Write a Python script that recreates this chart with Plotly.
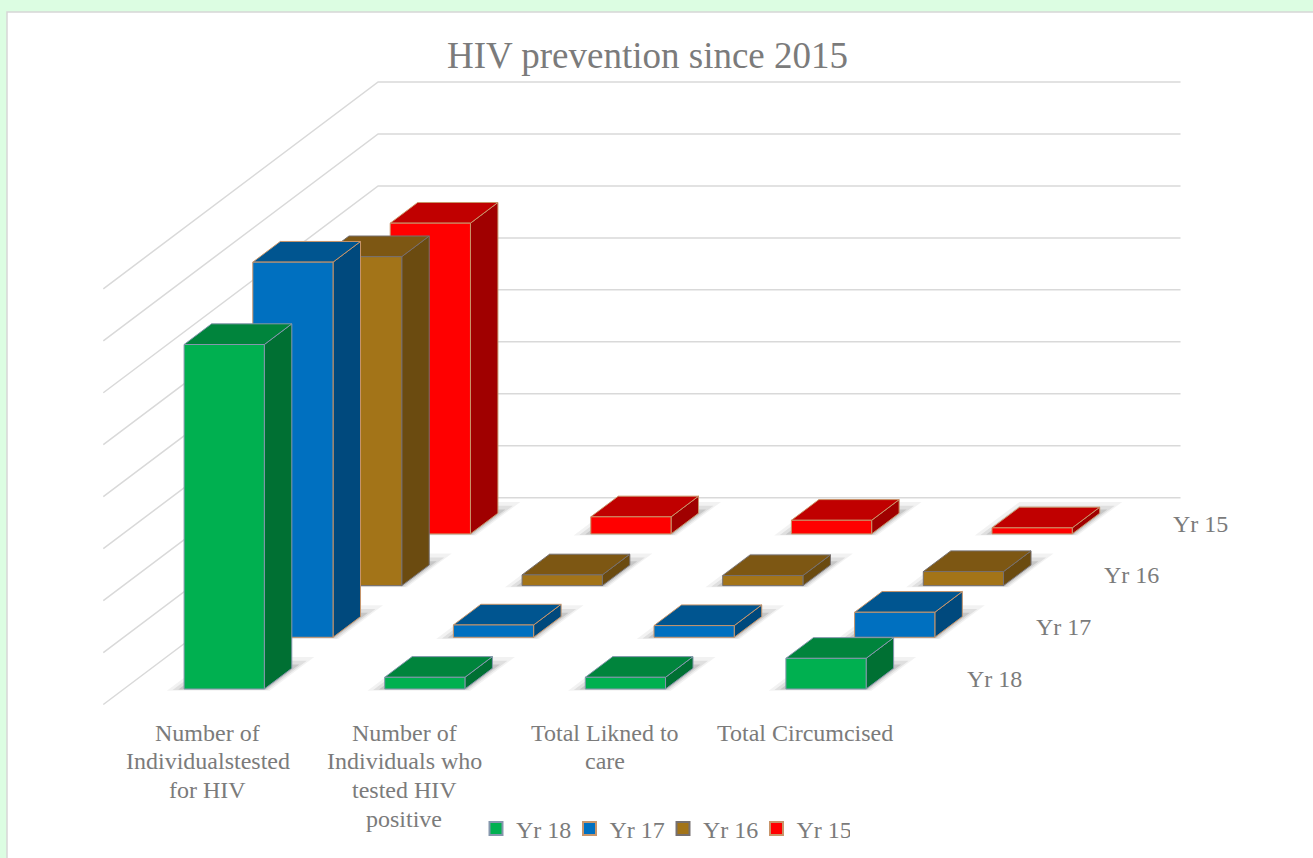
import plotly.graph_objects as go

# ---------------- data ----------------
categories = ["Number of<br>Individualstested<br>for HIV",
              "Number of<br>Individuals who<br>tested HIV<br>positive",
              "Total Likned to<br>care",
              "Total Circumcised"]
series_names = ["Yr 18", "Yr 17", "Yr 16", "Yr 15"]
yr18 = [6630, 225, 225, 590]
yr17 = [7220, 237, 225, 482]
yr16 = [6330, 206, 193, 270]
yr15 = [5980, 328, 262, 116]
series_values = [yr18, yr17, yr16, yr15]

grid_step = 1000
grid_max = 8000

# ---------------- styling ----------------
front_colors = ["#00b050", "#0070c0", "#a37418", "#ff0000"]
top_colors = ["#00843c", "#005590", "#7d5713", "#c00000"]
side_colors = ["#007033", "#00497d", "#6b4b10", "#a00000"]
edge_colors = ["#8597ad", "#c8956a", "#767070", "#c8956a"]
TEXT = "#7b7b7b"
FONT = "Liberation Serif"

# oblique projection: depth row shifts right and up
KX = 0.3425      # category units per depth row
KY = 995.0       # value units per depth row
BAR_W = 0.4
BAR_D = 0.4
n_cat = len(categories)
n_ser = len(series_names)


def proj(c, d, v):
    return c + d * KX, v + d * KY


def poly(points):
    xs, ys = [], []
    for (c, d, v) in points:
        x, y = proj(c, d, v)
        xs.append(x)
        ys.append(y)
    x, y = proj(*points[0])
    xs += [x, None]
    ys += [y, None]
    return xs, ys


fig = go.Figure()

# gridlines on side wall and back wall
gx, gy = [], []
v = 0
while v <= grid_max:
    for p in [(0, 0, v), (0, n_ser, v), (n_cat, n_ser, v)]:
        x, y = proj(*p)
        gx.append(x)
        gy.append(y)
    gx.append(None)
    gy.append(None)
    v += grid_step
fig.add_trace(go.Scatter(x=gx, y=gy, mode="lines", line=dict(color="#d9d9d9", width=1.5),
                         hoverinfo="skip", showlegend=False))

# soft shadows on the floor
for level, alpha in [(15, 0.05), (10, 0.08), (5, 0.11)]:
    sx, sy = [], []
    for s in range(n_ser):
        for i in range(n_cat):
            ec = level / 200.6
            ed = level / 68.7
            c0, c1 = i + 0.5 - BAR_W / 2 - ec, i + 0.5 + BAR_W / 2 + ec * 0.5
            d0, d1 = s + 0.5 - BAR_D / 2 - ed * 0.15, s + 0.5 + BAR_D / 2 + ed
            xs, ys = poly([(c0, d0, 0), (c1, d0, 0), (c1, d1, 0), (c0, d1, 0)])
            sx += xs
            sy += ys
    fig.add_trace(go.Scatter(x=sx, y=sy, mode="lines", fill="toself",
                             fillcolor=f"rgba(0,0,0,{alpha})", line=dict(width=0),
                             hoverinfo="skip", showlegend=False))

# bars, back row first
for s in reversed(range(n_ser)):
    vals = series_values[s]
    d0, d1 = s + 0.5 - BAR_D / 2, s + 0.5 + BAR_D / 2
    faces = {"side": ([], []), "top": ([], []), "front": ([], [])}
    for i, val in enumerate(vals):
        c0, c1 = i + 0.5 - BAR_W / 2, i + 0.5 + BAR_W / 2
        parts = {
            "front": [(c0, d0, 0), (c1, d0, 0), (c1, d0, val), (c0, d0, val)],
            "top": [(c0, d0, val), (c1, d0, val), (c1, d1, val), (c0, d1, val)],
            "side": [(c1, d0, 0), (c1, d1, 0), (c1, d1, val), (c1, d0, val)],
        }
        for k, pts in parts.items():
            xs, ys = poly(pts)
            faces[k][0].extend(xs)
            faces[k][1].extend(ys)
    for k, col in [("side", side_colors[s]), ("top", top_colors[s]), ("front", front_colors[s])]:
        fig.add_trace(go.Scatter(x=faces[k][0], y=faces[k][1], mode="lines", fill="toself",
                                 fillcolor=col, line=dict(color=edge_colors[s], width=1),
                                 hoverinfo="skip", showlegend=False))

# legend entries
for s in range(n_ser):
    fig.add_trace(go.Scatter(x=[None], y=[None], mode="markers", name=series_names[s],
                             marker=dict(symbol="square", size=13, color=front_colors[s],
                                         line=dict(color=edge_colors[s], width=2))))

# category labels along the front edge (one annotation per text line, Excel-like spacing)
LINE_PITCH = 28.7
for i, lab in enumerate(categories):
    x, y = proj(i + 0.5, 0, 0)
    for k, line in enumerate(lab.split("<br>")):
        fig.add_annotation(x=x + (0.02 if i == 0 else 0), y=y, text=line, showarrow=False,
                           xanchor="center", yanchor="top", yshift=-13 - k * LINE_PITCH,
                           font=dict(family=FONT, size=24, color=TEXT), align="center")

# series labels along the depth axis
for s in range(n_ser):
    x, y = proj(n_cat, s + 0.5, 0)
    fig.add_annotation(x=x, y=y, text=series_names[s], showarrow=False, xanchor="left",
                       yanchor="middle", xshift=25, font=dict(family=FONT, size=24, color=TEXT))

W, H = 1313, 858
fig.add_shape(type="rect", xref="paper", yref="paper", x0=7 / W, x1=1.02, y0=-0.02, y1=1 - 12 / H,
              fillcolor="white", line=dict(color="#d6d6d6", width=1.5), layer="below")

fig.update_layout(
    width=W, height=H, autosize=False,
    margin=dict(l=0, r=0, t=0, b=0),
    paper_bgcolor="#dcfde2", plot_bgcolor="rgba(0,0,0,0)",
    title=dict(text="HIV prevention since 2015", x=647.5 / W, xanchor="center",
               y=1 - 55 / H, yanchor="middle",
               font=dict(family=FONT, size=37, color=TEXT)),
    xaxis=dict(range=[-103.3 / 200.6, (W - 103.3) / 200.6], visible=False, fixedrange=True),
    yaxis=dict(range=[(704.5 - H) / 51.96 * 1000, 704.5 / 51.96 * 1000], visible=False,
               fixedrange=True),
    showlegend=True,
    legend=dict(orientation="h", x=476 / W, xanchor="left", y=1 - 829 / H, yanchor="middle",
                bgcolor="rgba(0,0,0,0)", font=dict(family=FONT, size=24, color=TEXT),
                itemwidth=30, tracegroupgap=0, entrywidth=48.5, entrywidthmode="pixels"),
)

fig.write_html("out.html")
